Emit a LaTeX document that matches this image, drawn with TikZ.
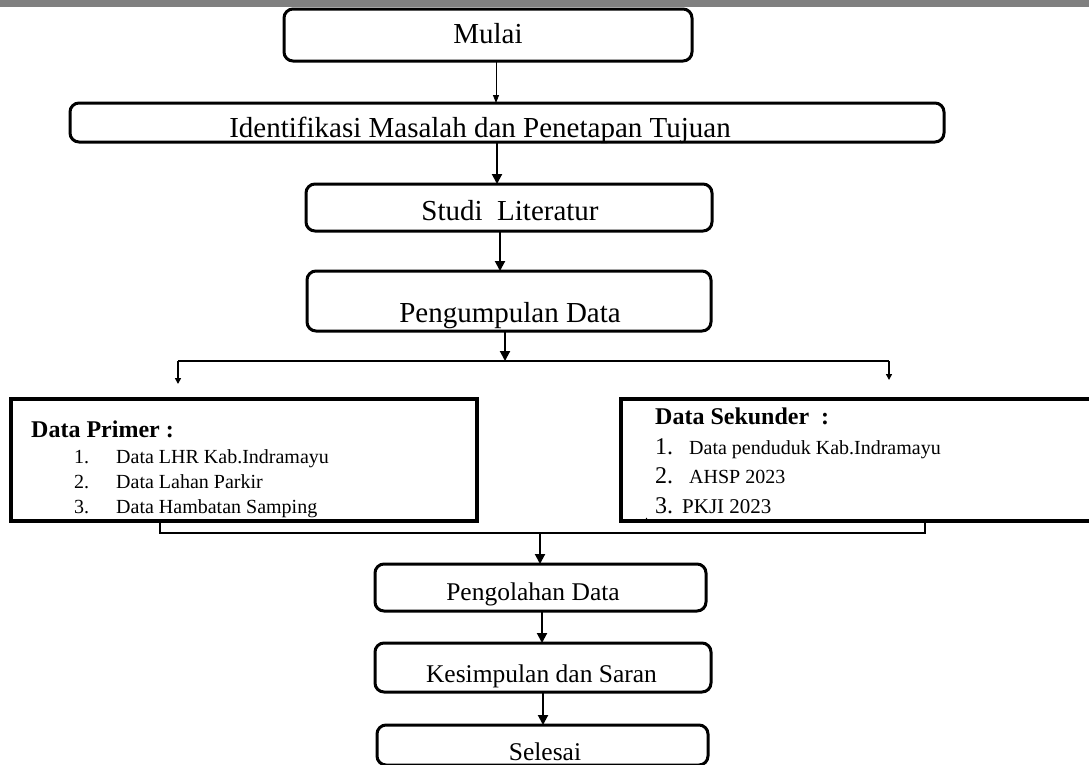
\documentclass[tikz,border=0pt]{standalone}
\usepackage{fontspec}
\setmainfont{Liberation Serif}
\usetikzlibrary{arrows.meta}
\definecolor{bargray}{HTML}{808080}
\tikzset{
  rbox/.style={draw, line width=3pt, rounded corners=9pt, inner sep=0pt, outer sep=0pt},
  dbox/.style={draw, line width=4pt, inner sep=0pt, outer sep=0pt},
  toptxt/.style={anchor=base, inner sep=0pt, font=\fontsize{29}{31}\selectfont},
  lowtxt/.style={anchor=base, inner sep=0pt, font=\fontsize{25.5}{27}\selectfont},
  headtxt/.style={anchor=base west, inner sep=0pt, font=\fontsize{24}{26}\selectfont\bfseries},
  itemtxt/.style={anchor=base west, inner sep=0pt, font=\fontsize{20}{22}\selectfont},
  numtxt/.style={anchor=base west, inner sep=0pt, font=\fontsize{24}{26}\selectfont},
  conn/.style={line width=2pt, -{Triangle[length=10pt,width=10pt]}},
  thinconn/.style={line width=0.8pt, -{Triangle[length=8pt,width=6pt]}},
  smallconn/.style={line width=1.6pt, -{Triangle[length=6pt,width=6pt]}},
  plain/.style={line width=1.6pt},
}
\begin{document}
\begin{tikzpicture}[x=1pt,y=-1pt]
\useasboundingbox (0,0) rectangle (1089,764);
\clip (0,0) rectangle (1089,764);
\fill[bargray] (0,0) rectangle (1089,7);

% rounded boxes
\node[rbox, minimum width=408pt, minimum height=52pt] (mulai) at (488,35) {};
\node[rbox, minimum width=874pt, minimum height=39pt] (ident) at (507,122.5) {};
\node[rbox, minimum width=406pt, minimum height=47pt] (studi) at (509,207.5) {};
\node[rbox, minimum width=404pt, minimum height=60pt] (kumpul) at (509,301) {};
\node[rbox, minimum width=331pt, minimum height=47pt] (olah) at (540.5,587.5) {};
\node[rbox, minimum width=336pt, minimum height=49pt] (simpul) at (543,667.5) {};
\node[rbox, minimum width=331pt, minimum height=40pt] (selesai) at (542.5,745) {};

% data boxes
\node[dbox, minimum width=466pt, minimum height=122pt] (primer) at (244,460) {};
\node[dbox, minimum width=474pt, minimum height=122pt] (sekunder) at (858,460) {};

% texts in rounded boxes
\node[toptxt] (mulaiT) at (488,43) {Mulai};
\node[toptxt] (identT) at (480,137) {Identifikasi Masalah dan Penetapan Tujuan};
\node[toptxt] (studiT) at (510,220) {Studi\ \ Literatur};
\node[toptxt] (kumpulT) at (510,322) {Pengumpulan Data};
\node[lowtxt] (olahT) at (533,600) {Pengolahan Data};
\node[lowtxt] (simpulT) at (541.5,682) {Kesimpulan dan Saran};
\node[lowtxt] (selesaiT) at (545,760) {Selesai};

% Data Primer
\node[headtxt] (pH) at (31,437) {Data Primer :};
\node[itemtxt] (p1n) at (74,463) {1.};
\node[itemtxt] (p1) at (116,463) {Data LHR Kab.Indramayu};
\node[itemtxt] (p2n) at (74,488) {2.};
\node[itemtxt] (p2) at (116,488) {Data Lahan Parkir};
\node[itemtxt] (p3n) at (74,513) {3.};
\node[itemtxt] (p3) at (116,513) {Data Hambatan Samping};

% Data Sekunder
\node[headtxt] (sH) at (655,424) {Data Sekunder\ \ :};
\node[numtxt] (s1n) at (655,454) {1.};
\node[itemtxt] (s1) at (689,454) {Data penduduk Kab.Indramayu};
\node[numtxt] (s2n) at (655,483) {2.};
\node[itemtxt] (s2) at (689,483) {AHSP 2023};
\node[itemtxt, font=\fontsize{12}{12}\selectfont] (sdot) at (645,519) {.};
\node[numtxt] (s3n) at (655,513) {3.};
\node[itemtxt, font=\fontsize{21}{22}\selectfont] (s3) at (682,513) {PKJI 2023};

% connectors top
\draw[thinconn] ([xshift=8pt]mulai.south) -- ([xshift=8pt]mulai.south |- ident.north);
\draw[conn] ([xshift=-10pt]ident.south) -- ([xshift=-12pt]studi.north);
\draw[conn] ([xshift=-9pt]studi.south) -- ([xshift=-9pt]kumpul.north);

% branch
\coordinate (br) at (505,361);
\coordinate (bl) at (178,361);
\coordinate (brr) at (889,361);
\coordinate (la) at (178,384);
\coordinate (ra) at (889,380);
\draw[conn] ([xshift=-4pt]kumpul.south) -- (br);
\draw[plain] (bl) -- (brr);
\draw[smallconn] (bl) -- (la);
\draw[smallconn] (brr) -- (ra);

% merge
\coordinate (ml) at (160,533);
\coordinate (mr) at (925,533);
\coordinate (mc) at (540,533);
\draw[plain] (primer.south -| ml) -- (ml) -- (mr) -- (sekunder.south -| mr);
\draw[conn] (mc) -- (mc |- olah.north);

% bottom connectors
\draw[conn] ([xshift=1.5pt]olah.south) -- ([xshift=1.5pt]olah.south |- simpul.north);
\draw[conn] (simpul.south) -- (simpul.south |- selesai.north);
\end{tikzpicture}
\end{document}
